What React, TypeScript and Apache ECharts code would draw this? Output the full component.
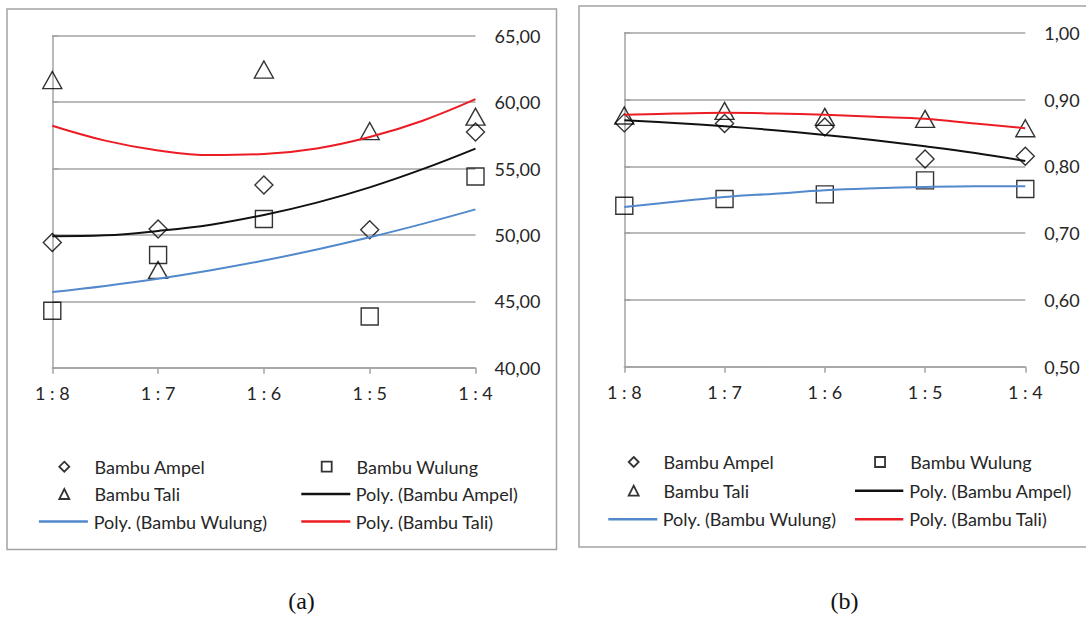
import React, { useEffect, useRef } from "react";
import * as echarts from "echarts";

const CATEGORIES = ["1 : 8", "1 : 7", "1 : 6", "1 : 5", "1 : 4"];
const TREND_X = [0, 0.5, 1, 1.5, 2, 2.5, 3, 3.5, 4];

// Chart (a)
const A_AMPEL = [49.43, 50.44, 53.76, 50.39, 57.75];
const A_WULUNG = [44.29, 48.49, 51.2, 43.86, 54.4];
const A_TALI = [61.66, 47.36, 62.45, 57.82, 58.9];
const A_POLY_AMPEL = [49.9, 49.97, 50.3, 50.77, 51.5, 52.43, 53.58, 54.95, 56.5];
const A_POLY_WULUNG = [45.7, 46.16, 46.7, 47.34, 48.07, 48.9, 49.82, 50.83, 51.92];
const A_POLY_TALI = [58.22, 57.1, 56.36, 56.01, 56.09, 56.51, 57.37, 58.6, 60.22];
const A_Y_MIN = 40;
const A_Y_MAX = 65;
const A_Y_STEP = 5;

// Chart (b)
const B_AMPEL = [0.865, 0.864, 0.859, 0.811, 0.815];
const B_WULUNG = [0.741, 0.751, 0.758, 0.779, 0.766];
const B_TALI = [0.876, 0.883, 0.874, 0.871, 0.857];
const B_POLY_AMPEL = [0.869, 0.865, 0.86, 0.854, 0.847, 0.839, 0.83, 0.82, 0.808];
const B_POLY_WULUNG = [0.739, 0.747, 0.754, 0.759, 0.764, 0.767, 0.769, 0.77, 0.77];
const B_POLY_TALI = [0.877, 0.879, 0.88, 0.879, 0.877, 0.874, 0.871, 0.864, 0.857];
const B_Y_MIN = 0.5;
const B_Y_MAX = 1.0;
const B_Y_STEP = 0.1;

const NAMES = {
  ampel: "Bambu Ampel",
  wulung: "Bambu Wulung",
  tali: "Bambu Tali",
  pAmpel: "Poly. (Bambu Ampel)",
  pWulung: "Poly. (Bambu Wulung)",
  pTali: "Poly. (Bambu Tali)",
};

const GRID_COLOR = "#a3a3a3";
const TEXT_COLOR = "#262626";
const FONT = "Lato";
const RED = "#ec1c24";
const BLUE = "#5189cc";
const BLACK = "#111111";
const LEGEND_LINE_H = 20;

const pts = (vals: number[]) => vals.map((v, i) => [i, v]);
const trend = (vals: number[]) => vals.map((v, i) => [TREND_X[i], v]);

const fmt = (v: number) => v.toFixed(2).replace(".", ",");

function makeSeries(idx: number, amp: number[], wul: number[], tal: number[], pa: number[], pw: number[], pt: number[]) {
  const scatterBase = {
    type: "scatter",
    xAxisIndex: idx,
    yAxisIndex: idx,
    itemStyle: { color: "rgba(255,255,255,0)", borderColor: "#000", borderWidth: 1.4 },
    z: 3,
  };
  const lineBase = {
    type: "line",
    xAxisIndex: idx,
    yAxisIndex: idx,
    symbol: "none",
    smooth: 0.4,
    z: 4,
  };
  return [
    { ...scatterBase, name: NAMES.ampel, symbol: "diamond", symbolSize: [18, 18], data: pts(amp) },
    { ...scatterBase, name: NAMES.wulung, symbol: "rect", symbolSize: [17, 17], data: pts(wul) },
    { ...scatterBase, name: NAMES.tali, symbol: "triangle", symbolSize: [19, 17], data: pts(tal) },
    { ...lineBase, name: NAMES.pAmpel, lineStyle: { color: BLACK, width: 2 }, itemStyle: { color: BLACK }, data: trend(pa) },
    { ...lineBase, name: NAMES.pWulung, lineStyle: { color: BLUE, width: 2 }, itemStyle: { color: BLUE }, data: trend(pw) },
    { ...lineBase, name: NAMES.pTali, lineStyle: { color: RED, width: 2 }, itemStyle: { color: RED }, data: trend(pt) },
  ];
}

const legendText = (padLeft: number) => ({
  fontFamily: FONT,
  fontSize: 18,
  lineHeight: LEGEND_LINE_H,
  color: TEXT_COLOR,
  padding: [0, 0, 0, padLeft],
});

// marker legend: a small symbol centred in a 49px slot, text after the slot
function legendMarker(name: string, icon: string, slotLeft: number, slotWidth: number, textLeft: number, centerY: number) {
  const size = 10;
  const left = slotLeft + slotWidth / 2 - size / 2;
  return {
    data: [{ name, icon }],
    left,
    top: centerY - LEGEND_LINE_H / 2,
    padding: 0,
    itemWidth: size,
    itemHeight: size,
    itemGap: 0,
    selectedMode: false,
    itemStyle: { color: "rgba(255,255,255,0)", borderColor: "#000", borderWidth: 1.8 },
    textStyle: legendText(textLeft - (left + size + 5)),
  };
}

function legendLine(name: string, slotLeft: number, slotWidth: number, textLeft: number, centerY: number) {
  const h = 2.4;
  return {
    data: [{ name, icon: "rect" }],
    left: slotLeft,
    top: centerY - LEGEND_LINE_H / 2,
    padding: 0,
    itemWidth: slotWidth,
    itemHeight: h,
    itemGap: 0,
    selectedMode: false,
    textStyle: legendText(textLeft - (slotLeft + slotWidth + 5)),
  };
}

function xAxis(gridIndex: number) {
  return {
    type: "value",
    gridIndex,
    min: 0,
    max: 4,
    interval: 1,
    axisLine: { show: true, lineStyle: { color: GRID_COLOR, width: 1.5 } },
    axisTick: { show: true, length: 6, lineStyle: { color: GRID_COLOR, width: 1.5 } },
    splitLine: { show: false },
    axisLabel: {
      margin: 16,
      fontFamily: FONT,
      fontSize: 18,
      color: TEXT_COLOR,
      formatter: (v: number) => CATEGORIES[v] ?? "",
    },
  };
}

function yAxis(gridIndex: number, min: number, max: number, step: number) {
  return {
    type: "value",
    gridIndex,
    position: "right",
    min,
    max,
    interval: step,
    axisLine: { show: true, lineStyle: { color: GRID_COLOR, width: 1.5 } },
    axisTick: { show: true, length: 6, lineStyle: { color: GRID_COLOR, width: 1.5 } },
    splitLine: { show: true, lineStyle: { color: GRID_COLOR, width: 1.5 } },
    axisLabel: {
      margin: 19,
      fontFamily: FONT,
      fontSize: 18,
      color: TEXT_COLOR,
      formatter: (v: number) => fmt(v),
    },
  };
}

export default function App() {
  const ref = useRef<HTMLDivElement>(null);
  useEffect(() => {
    if (!ref.current) return;
    const chart = echarts.init(ref.current, null, { renderer: "svg" });
    const option = {
      animation: false,
      backgroundColor: "#ffffff",
      grid: [
        { left: 52.3, top: 35.7, width: 423.2, height: 332 },
        { left: 624.3, top: 32.7, width: 401, height: 334 },
      ],
      xAxis: [xAxis(0), xAxis(1)],
      yAxis: [yAxis(0, A_Y_MIN, A_Y_MAX, A_Y_STEP), yAxis(1, B_Y_MIN, B_Y_MAX, B_Y_STEP)],
      legend: [
        legendMarker(NAMES.ampel, "diamond", 38.9, 49, 93.7, 466.7),
        legendMarker(NAMES.wulung, "rect", 301.3, 49, 355.7, 466.7),
        legendMarker(NAMES.tali, "triangle", 38.9, 49, 93.7, 494),
        legendLine(NAMES.pAmpel, 301.3, 49, 355.7, 494),
        legendLine(NAMES.pWulung, 38.9, 49, 93.7, 521.5),
        legendLine(NAMES.pTali, 301.3, 49, 355.7, 521.5),
        legendMarker(NAMES.ampel, "diamond", 608.3, 49, 662.7, 462),
        legendMarker(NAMES.wulung, "rect", 855, 48.3, 909.3, 462),
        legendMarker(NAMES.tali, "triangle", 608.3, 49, 662.7, 490.7),
        legendLine(NAMES.pAmpel, 855, 48.3, 909.3, 490.7),
        legendLine(NAMES.pWulung, 608.3, 49, 662.7, 519.3),
        legendLine(NAMES.pTali, 855, 48.3, 909.3, 519.3),
      ],
      series: [
        ...makeSeries(0, A_AMPEL, A_WULUNG, A_TALI, A_POLY_AMPEL, A_POLY_WULUNG, A_POLY_TALI),
        ...makeSeries(1, B_AMPEL, B_WULUNG, B_TALI, B_POLY_AMPEL, B_POLY_WULUNG, B_POLY_TALI),
      ],
      graphic: [
        {
          type: "rect",
          shape: { x: 7, y: 9, width: 549.5, height: 540.5 },
          style: { fill: "none", stroke: GRID_COLOR, lineWidth: 1.5 },
          silent: true,
        },
        {
          type: "rect",
          shape: { x: 579, y: 6, width: 530, height: 541 },
          style: { fill: "none", stroke: GRID_COLOR, lineWidth: 1.5 },
          silent: true,
        },
        {
          type: "text",
          x: 301.5,
          y: 601,
          style: {
            text: "(a)",
            fontFamily: "Liberation Serif",
            fontSize: 24,
            fill: "#111",
            align: "center",
            verticalAlign: "middle",
          },
        },
        {
          type: "text",
          x: 844.5,
          y: 601,
          style: {
            text: "(b)",
            fontFamily: "Liberation Serif",
            fontSize: 24,
            fill: "#111",
            align: "center",
            verticalAlign: "middle",
          },
        },
      ],
    };
    chart.setOption(option as any);
    return () => chart.dispose();
  }, []);
  return (
    <div
      ref={ref}
      style={{ position: "absolute", left: 0, top: 0, width: 1086, height: 618 }}
    />
  );
}
